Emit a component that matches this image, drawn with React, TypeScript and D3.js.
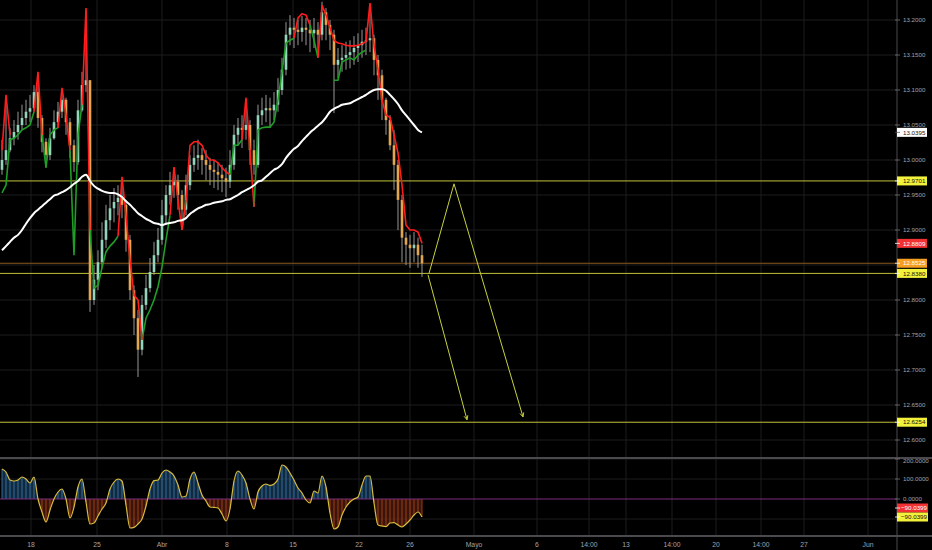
import React from 'react';
import * as d3 from 'd3';

const W = 932;
const H = 550;

const firstOpen = 12.986;
const closes = [
  13.000, 13.014, 13.031, 13.040, 13.050, 13.060, 13.069, 13.074, 13.097, 13.060,
  13.026, 13.007, 13.031, 13.054, 13.069, 13.086, 13.054, 13.021, 12.997, 13.071,
  13.107, 13.114, 12.800, 12.829, 12.854, 12.886, 12.914, 12.931, 12.940, 12.946,
  12.936, 12.886, 12.814, 12.774, 12.729, 12.793, 12.817, 12.840, 12.864, 12.886,
  12.921, 12.950, 12.964, 12.969, 12.950, 12.929, 12.964, 12.993, 13.003, 13.007,
  13.000, 12.993, 12.986, 12.983, 12.979, 12.974, 12.969, 12.993, 13.036, 13.046,
  13.043, 13.050, 13.014, 12.993, 13.064, 13.071, 13.074, 13.071, 13.079, 13.100,
  13.129, 13.179, 13.189, 13.186, 13.183, 13.189, 13.186, 13.181, 13.186, 13.179,
  13.211, 13.193, 13.179, 13.136, 13.143, 13.146, 13.150, 13.154, 13.160, 13.164,
  13.169, 13.171, 13.174, 13.143, 13.121, 13.086, 13.057, 13.021, 12.993, 12.943,
  12.889, 12.879, 12.874, 12.879, 12.864, 12.8525,
];
const highs = [
  13.029, 13.086, 13.046, 13.057, 13.069, 13.079, 13.086, 13.093, 13.107, 13.117,
  13.064, 13.031, 13.046, 13.071, 13.083, 13.100, 13.089, 13.060, 13.029, 13.086,
  13.126, 13.214, 13.114, 12.850, 12.871, 12.911, 12.936, 12.950, 12.960, 12.964,
  12.969, 12.943, 12.893, 12.821, 12.786, 12.807, 12.836, 12.860, 12.883, 12.903,
  12.943, 12.964, 12.983, 12.989, 12.979, 12.957, 12.979, 13.007, 13.021, 13.029,
  13.017, 13.014, 13.003, 13.000, 12.997, 12.993, 12.989, 13.014, 13.050, 13.060,
  13.064, 13.086, 13.057, 13.029, 13.079, 13.089, 13.093, 13.089, 13.097, 13.117,
  13.146, 13.197, 13.207, 13.203, 13.200, 13.206, 13.203, 13.200, 13.203, 13.197,
  13.226, 13.217, 13.200, 13.186, 13.160, 13.164, 13.169, 13.171, 13.177, 13.181,
  13.186, 13.189, 13.221, 13.179, 13.150, 13.129, 13.089, 13.064, 13.043, 13.000,
  12.950, 12.897, 12.893, 12.897, 12.889, 12.879,
];
const lows = [
  12.979, 12.993, 13.011, 13.021, 13.029, 13.043, 13.050, 13.054, 13.069, 13.046,
  13.011, 12.989, 13.000, 13.029, 13.046, 13.060, 13.036, 13.003, 12.983, 12.993,
  13.069, 13.097, 12.783, 12.793, 12.814, 12.846, 12.874, 12.900, 12.911, 12.921,
  12.917, 12.869, 12.800, 12.750, 12.690, 12.721, 12.786, 12.811, 12.836, 12.854,
  12.879, 12.907, 12.936, 12.946, 12.929, 12.900, 12.921, 12.957, 12.983, 12.986,
  12.979, 12.971, 12.964, 12.960, 12.957, 12.954, 12.947, 12.960, 12.986, 13.021,
  13.017, 13.029, 12.993, 12.979, 12.989, 13.050, 13.054, 13.046, 13.057, 13.069,
  13.093, 13.121, 13.164, 13.160, 13.164, 13.169, 13.164, 13.154, 13.160, 13.150,
  13.171, 13.171, 13.157, 13.067, 13.117, 13.126, 13.129, 13.131, 13.136, 13.140,
  13.146, 13.150, 13.154, 13.121, 13.086, 13.057, 13.036, 13.014, 12.957, 12.900,
  12.854, 12.850, 12.846, 12.854, 12.846, 12.833,
];
const N = null;
const greenStop: (number | null)[] = [
  12.953, 12.964, 13.029, 13.031, 13.036, 13.043, 13.046, 13.050, 13.069, N,
  13.036, 12.989, 13.036, 13.043, 13.046, N, N, 13.014, 12.864, 13.036,
  13.079, N, 12.900, 12.817, 12.821, 12.846, 12.869, 12.877, 12.883, 12.891,
  N, N, N, N, N, 12.743, 12.774, 12.786, 12.800, 12.819,
  12.847, 12.886, 12.921, N, N, 12.900, 12.943, N, N, N,
  N, N, N, N, N, N, N, 12.979, 13.021, 13.021,
  13.029, N, N, 12.933, 13.043, 13.046, 13.047, 13.047, 13.054, 13.086,
  13.126, 13.167, 13.171, 13.174, N, N, N, 13.193, 13.171, 13.146,
  N, N, N, 13.114, 13.114, 13.140, 13.143, 13.146, 13.143, 13.150,
  13.154, 13.157, N, N, N, N, N, N, N, N,
  N, N, N, N, N, N,
];
const redStop: (number | null)[] = [
  13.014, 13.093, 13.036, N, N, N, N, N, 13.069, 13.126,
  13.036, N, N, N, 13.046, 13.103, 13.064, 13.014, N, N,
  13.079, 13.217, 12.900, N, N, N, N, N, N, 12.891,
  12.976, 12.921, 12.857, 12.807, 12.800, 12.743, N, N, N, N,
  N, N, 12.921, 12.990, 12.943, 12.900, 12.943, 13.021, 13.026, 13.026,
  13.021, 13.007, 13.000, 13.000, 12.996, 12.989, 12.983, 12.979, N, N,
  13.029, 13.089, 13.014, 12.933, N, N, N, N, N, N,
  N, N, N, 13.174, 13.203, 13.209, 13.207, 13.193, N, 13.146,
  13.221, 13.207, 13.189, 13.171, 13.167, 13.166, 13.164, 13.163, 13.163, 13.164,
  13.166, 13.169, 13.224, 13.164, 13.129, 13.086, 13.064, 13.061, 13.036, 13.010,
  12.964, 12.907, 12.900, 12.900, 12.897, 12.8809,
];
const movingAvg = [
  12.871, 12.877, 12.883, 12.889, 12.893, 12.900, 12.909, 12.917, 12.924, 12.929,
  12.934, 12.939, 12.944, 12.949, 12.951, 12.954, 12.957, 12.961, 12.966, 12.970,
  12.976, 12.979, 12.970, 12.963, 12.959, 12.956, 12.954, 12.953, 12.953, 12.951,
  12.947, 12.941, 12.936, 12.930, 12.924, 12.920, 12.916, 12.913, 12.910, 12.909,
  12.907, 12.909, 12.910, 12.911, 12.913, 12.914, 12.917, 12.923, 12.927, 12.931,
  12.933, 12.936, 12.937, 12.939, 12.940, 12.941, 12.943, 12.944, 12.947, 12.950,
  12.954, 12.957, 12.960, 12.964, 12.969, 12.971, 12.976, 12.981, 12.986, 12.989,
  12.994, 13.003, 13.010, 13.016, 13.020, 13.027, 13.033, 13.039, 13.044, 13.049,
  13.054, 13.061, 13.069, 13.073, 13.076, 13.079, 13.080, 13.081, 13.084, 13.087,
  13.090, 13.093, 13.097, 13.100, 13.101, 13.101, 13.099, 13.093, 13.087, 13.080,
  13.071, 13.064, 13.057, 13.050, 13.043, 13.0395,
];
const cci = [
  150, 135, 95, 90, 95, 110, 100, 80, 110, 0,
  -65, -115, -55, 0, 35, 50, 0, -95, -40, 60,
  100, -15, -125, -120, -85, -50, -20, 50, 85, 100,
  90, -30, -145, -142, -125, -100, -35, 50, 92, 95,
  130, 145, 135, 115, 70, 10, 15, 100, 135, 80,
  20, -10, -40, -42, -45, -75, -110, -50, 90, 140,
  120, 80, 0, -50, 35, 65, 75, 68, 75, 100,
  170, 160, 130, 95, 55, 30, -5, -20, 40, 30,
  115, 60, -70, -150, -140, -80, -40, -15, 0, 10,
  70, 115, 115, -20, -130, -135, -138, -120, -118, -130,
  -140, -125, -105, -80, -65, -90.0399,
];

const priceTicks = [12.6, 12.65, 12.7, 12.75, 12.8, 12.85, 12.9, 12.95, 13.0, 13.05, 13.1, 13.15, 13.2];
const levelLines = [12.9701, 12.838, 12.6254];
const cciTicks = [200, 100, 0];
const cciGrid = [200, 100, -100];
const timeTicks = [
  { label: '18', pos: 7.25 },
  { label: '25', pos: 23.75 },
  { label: 'Abr', pos: 40 },
  { label: '8', pos: 56.25 },
  { label: '15', pos: 72.75 },
  { label: '22', pos: 89.25 },
  { label: '26', pos: 102 },
  { label: 'Mayo', pos: 118 },
  { label: '6', pos: 133.75 },
  { label: '14:00', pos: 146.75 },
  { label: '13', pos: 156 },
  { label: '14:00', pos: 167.5 },
  { label: '20', pos: 178.5 },
  { label: '14:00', pos: 189.75 },
  { label: '27', pos: 200.5 },
  { label: 'Jun', pos: 216.5 },
];
const projUp: [number, number][] = [[106.75, 12.838], [113, 12.966], [130.25, 12.633]];
const projDown: [number, number][] = [[106.5, 12.836], [116.25, 12.629]];

const AXIS_X = 897;
const PANE_BOTTOM = 457;
const IND_TOP = 458;
const IND_BOTTOM = 536;
const FONT = 'Liberation Sans, Arial, sans-serif';

const fmt = d3.format('.4f');

function arrowHead(x1: number, y1: number, x2: number, y2: number) {
  const a = Math.atan2(y2 - y1, x2 - x1);
  const L = 4.5;
  const s = 0.45;
  const p1 = [x2 - L * Math.cos(a - s), y2 - L * Math.sin(a - s)];
  const p2 = [x2 - L * Math.cos(a + s), y2 - L * Math.sin(a + s)];
  return `M${p1[0]},${p1[1]}L${x2},${y2}L${p2[0]},${p2[1]}`;
}

export default function App() {
  const x = d3.scaleLinear().domain([0, 105]).range([2, 422]);
  const y = d3.scaleLinear().domain([12.6, 13.2]).range([440, 20]);
  const yc = d3.scaleLinear().domain([0, 200]).range([499, 459]);

  const stopLine = d3
    .line<number | null>()
    .defined((d) => d != null)
    .x((_, i) => x(i))
    .y((d) => y(d as number));
  const maLine = d3
    .line<number>()
    .x((_, i) => x(i))
    .y((d) => y(d))
    .curve(d3.curveMonotoneX);
  const cciLine = d3
    .line<number>()
    .x((_, i) => x(i))
    .y((d) => yc(d))
    .curve(d3.curveMonotoneX);
  const cciArea = d3
    .area<number>()
    .x((_, i) => x(i))
    .y0(yc(0))
    .y1((d) => yc(d))
    .curve(d3.curveMonotoneX);

  const last = closes.length - 1;
  const boxes = [
    { v: movingAvg[last], bg: '#ffffff', fg: '#111' },
    { v: levelLines[0], bg: '#f2f23c', fg: '#111' },
    { v: redStop[last] as number, bg: '#f23232', fg: '#fff' },
    { v: closes[last], bg: '#f5a023', fg: '#fff' },
    { v: levelLines[1], bg: '#f2f23c', fg: '#111' },
    { v: levelLines[2], bg: '#f2f23c', fg: '#111' },
  ];
  const boxYs = boxes.map((b) => y(b.v));

  const pU = projUp.map(([k, p]) => [x(k), y(p)]);
  const pD = projDown.map(([k, p]) => [x(k), y(p)]);
  const projColor = '#c9d13c';

  return (
    <div>
      <style>{`body{margin:0;background:#000}`}</style>
      <svg width={W} height={H} style={{ display: 'block', background: '#000' }} fontFamily={FONT}>
        <defs>
          <clipPath id="mainClip">
            <rect x={0} y={0} width={AXIS_X} height={PANE_BOTTOM} />
          </clipPath>
          <clipPath id="posClip">
            <rect x={0} y={IND_TOP} width={AXIS_X} height={yc(0) - IND_TOP} />
          </clipPath>
          <clipPath id="negClip">
            <rect x={0} y={yc(0)} width={AXIS_X} height={IND_BOTTOM - yc(0)} />
          </clipPath>
        </defs>
        <rect x={0} y={0} width={W} height={H} fill="#000" />

        {/* grid */}
        {priceTicks.map((t) => (
          <line key={'hg' + t} x1={0} x2={AXIS_X} y1={y(t)} y2={y(t)} stroke="#1c1c1e" strokeWidth={1} />
        ))}
        {cciGrid.map((t) => (
          <line key={'cg' + t} x1={0} x2={AXIS_X} y1={yc(t)} y2={yc(t)} stroke="#1c1c1e" strokeWidth={1} />
        ))}
        {timeTicks.map((t, i) => (
          <line key={'vg' + i} x1={x(t.pos)} x2={x(t.pos)} y1={0} y2={IND_BOTTOM} stroke="#1c1c1e" strokeWidth={1} />
        ))}

        {/* price pane */}
        <g clipPath="url(#mainClip)">
          {levelLines.map((v) => (
            <line key={'lv' + v} x1={0} x2={AXIS_X} y1={y(v)} y2={y(v)} stroke="#c2c23a" strokeWidth={1} />
          ))}
          <line x1={0} x2={AXIS_X} y1={y(closes[last])} y2={y(closes[last])} stroke="#8a5a1c" strokeWidth={1} />

          {closes.map((c, i) => {
            const o = i === 0 ? firstOpen : closes[i - 1];
            const up = c >= o;
            const col = up ? '#93d4bb' : '#e3a650';
            const top = y(Math.max(o, c));
            const bot = y(Math.min(o, c));
            const cx = x(i);
            return (
              <g key={'c' + i}>
                <line x1={cx} x2={cx} y1={y(Math.max(highs[i], o, c))} y2={y(Math.min(lows[i], o, c))} stroke="#a9a9a9" strokeWidth={0.9} />
                <rect x={cx - 1.3} y={top} width={2.6} height={Math.max(1, bot - top)} fill={col} />
              </g>
            );
          })}

          <path d={stopLine(greenStop) || ''} fill="none" stroke="#1f9e26" strokeWidth={1.6} />
          <path d={stopLine(redStop) || ''} fill="none" stroke="#ff1c1c" strokeWidth={1.6} />
          <path d={maLine(movingAvg) || ''} fill="none" stroke="#ffffff" strokeWidth={2} />

          {/* projection drawing */}
          <path d={`M${pU[0][0]},${pU[0][1]}L${pU[1][0]},${pU[1][1]}L${pU[2][0]},${pU[2][1]}`} fill="none" stroke={projColor} strokeWidth={1} />
          <path d={arrowHead(pU[1][0], pU[1][1], pU[2][0], pU[2][1])} fill="none" stroke={projColor} strokeWidth={1} />
          <path d={`M${pD[0][0]},${pD[0][1]}L${pD[1][0]},${pD[1][1]}`} fill="none" stroke={projColor} strokeWidth={1} />
          <path d={arrowHead(pD[0][0], pD[0][1], pD[1][0], pD[1][1])} fill="none" stroke={projColor} strokeWidth={1} />
        </g>

        {/* indicator pane */}
        <g>
          <path d={cciArea(cci) || ''} fill="#1d4a72" opacity={0.55} clipPath="url(#posClip)" />
          <path d={cciArea(cci) || ''} fill="#6a2410" opacity={0.55} clipPath="url(#negClip)" />
          {cci.map((v, i) => (
            <line key={'h' + i} x1={x(i)} x2={x(i)} y1={yc(0)} y2={yc(v)} stroke={v >= 0 ? '#3f7fb5' : '#b8461f'} strokeWidth={0.8} />
          ))}
          <line x1={0} x2={AXIS_X} y1={yc(0)} y2={yc(0)} stroke="#7d2c7d" strokeWidth={1} />
          <path d={cciLine(cci) || ''} fill="none" stroke="#d8bb3c" strokeWidth={1.2} />
        </g>

        {/* pane separators */}
        <line x1={0} x2={W} y1={IND_TOP} y2={IND_TOP} stroke="#4a4a4e" strokeWidth={2} />
        <line x1={0} x2={W} y1={IND_BOTTOM} y2={IND_BOTTOM} stroke="#4a4a4e" strokeWidth={2} />
        <line x1={AXIS_X} x2={AXIS_X} y1={0} y2={H} stroke="#4a4a4e" strokeWidth={1} />

        {/* price axis */}
        {priceTicks
          .filter((t) => boxYs.every((by) => Math.abs(by - y(t)) > 7))
          .map((t) => (
            <g key={'pt' + t}>
              <line x1={AXIS_X - 2} x2={AXIS_X + 3} y1={y(t)} y2={y(t)} stroke="#777" strokeWidth={0.8} />
              <text x={903} y={y(t)} dy="0.35em" fontSize={6.2} fill="#a3a3a8">
                {fmt(t)}
              </text>
            </g>
          ))}
        {boxes.map((b, i) => (
          <g key={'bx' + i}>
            <rect x={AXIS_X} y={y(b.v) - 4.5} width={30} height={9} fill={b.bg} />
            <line x1={AXIS_X - 2} x2={AXIS_X + 3} y1={y(b.v)} y2={y(b.v)} stroke={b.bg === '#ffffff' ? '#555' : '#fff'} strokeWidth={0.8} />
            <text x={903} y={y(b.v)} dy="0.35em" fontSize={6.2} fill={b.fg}>
              {fmt(b.v)}
            </text>
          </g>
        ))}

        {/* indicator axis */}
        {cciTicks.map((t) => (
          <g key={'ct' + t}>
            <line x1={AXIS_X - 2} x2={AXIS_X + 3} y1={yc(t)} y2={yc(t)} stroke="#777" strokeWidth={0.8} />
            <text x={903} y={yc(t) + (t === 200 ? 1.5 : 0)} dy="0.35em" fontSize={6.2} fill="#a3a3a8">
              {fmt(t)}
            </text>
          </g>
        ))}
        {[
          { off: -9, bg: '#f23232', fg: '#fff' },
          { off: 0, bg: '#f2f23c', fg: '#111' },
        ].map((b, i) => (
          <g key={'cb' + i}>
            <rect x={AXIS_X} y={yc(cci[last]) + b.off - 4.5} width={31} height={9} fill={b.bg} />
            <line x1={AXIS_X - 2} x2={AXIS_X + 3} y1={yc(cci[last]) + b.off} y2={yc(cci[last]) + b.off} stroke="#fff" strokeWidth={0.8} />
            <text x={901} y={yc(cci[last]) + b.off} dy="0.35em" fontSize={6.2} fill={b.fg}>
              {d3.format('.4f')(cci[last])}
            </text>
          </g>
        ))}

        {/* time axis */}
        {timeTicks.map((t, i) => (
          <text key={'tt' + i} x={x(t.pos)} y={545} dy="0.35em" textAnchor="middle" fontSize={6.8} fill="#a3a3a8">
            {t.label}
          </text>
        ))}
      </svg>
    </div>
  );
}
